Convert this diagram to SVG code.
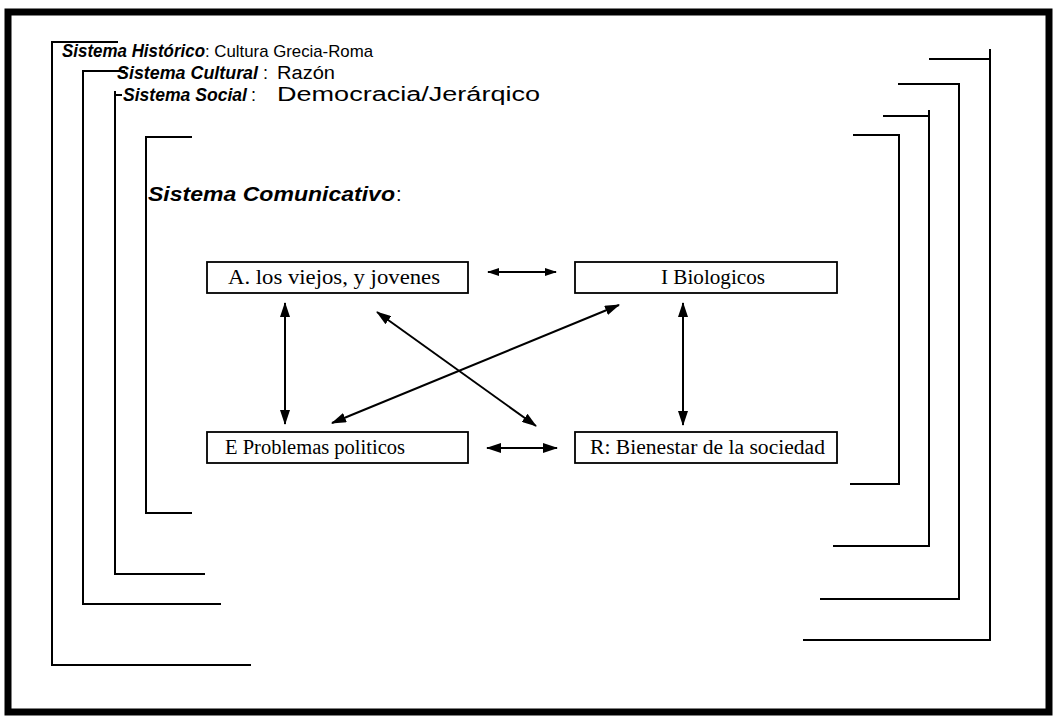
<svg xmlns="http://www.w3.org/2000/svg" width="1056" height="716" viewBox="0 0 1056 716">
<defs>
<style>
.frame{fill:none;stroke:#000;stroke-width:7}
.br{fill:none;stroke:#000;stroke-width:2}
.box{fill:#fff;stroke:#000;stroke-width:1.8}
.hb{font-family:"Liberation Sans",Arial,sans-serif;font-weight:bold;font-style:italic;font-size:17px;fill:#000}
.hr{font-family:"Liberation Sans",Arial,sans-serif;font-size:17px;fill:#000}
.lbl{font-family:"Liberation Serif","Times New Roman",serif;font-size:20px;fill:#000}
.con{fill:none;stroke:#000;stroke-width:2;marker-start:url(#ah);marker-end:url(#ah)}
.cons{fill:none;stroke:#000;stroke-width:1.8;marker-start:url(#ahs);marker-end:url(#ahs)}
</style>
<marker id="ah" viewBox="0 0 15 10" refX="14" refY="5" markerWidth="15" markerHeight="10" markerUnits="userSpaceOnUse" orient="auto-start-reverse">
<path d="M0,0 L15,5 L0,10 Z" fill="#000"/>
</marker>
<marker id="ahs" viewBox="0 0 12 8" refX="11" refY="4" markerWidth="12" markerHeight="8" markerUnits="userSpaceOnUse" orient="auto-start-reverse">
<path d="M0,0 L12,4 L0,8 Z" fill="#000"/>
</marker>
</defs>
<rect width="1056" height="716" fill="#fff"/>
<rect class="frame" x="8" y="12" width="1041" height="700"/>

<g id="sistema-historico">
<path class="br" d="M118,42 H52 V665 H251"/>
<path class="br" d="M929,59 H990 V49 M990,59 V640 H803"/>
<text class="hb" x="62" y="57" style="font-size:18px" textLength="143" lengthAdjust="spacingAndGlyphs">Sistema Histórico</text>
<text class="hr" x="205" y="57" textLength="168" lengthAdjust="spacingAndGlyphs">: Cultura Grecia-Roma</text>
</g>

<g id="sistema-cultural">
<path class="br" d="M125,71 H83 V604 H221"/>
<path class="br" d="M898,84 H959 V599 H820"/>
<text class="hb" x="117" y="79" style="font-size:18px" textLength="141" lengthAdjust="spacingAndGlyphs">Sistema Cultural</text>
<text class="hr" x="263" y="79" style="font-size:18px">:</text>
<text class="hr" x="277" y="79" style="font-size:18px" textLength="58" lengthAdjust="spacingAndGlyphs">Razón</text>
</g>

<g id="sistema-social">
<path class="br" d="M122,95 H115 M115,91 V574 H205"/>
<path class="br" d="M883,116 H929 M929,110 V546 H833"/>
<text class="hb" x="123" y="101" style="font-size:18px" textLength="124" lengthAdjust="spacingAndGlyphs">Sistema Social</text>
<text class="hr" x="251" y="101" style="font-size:18px">:</text>
<text class="hr" x="277" y="101" style="font-size:20px" textLength="263" lengthAdjust="spacingAndGlyphs">Democracia/Jerárqico</text>
</g>

<g id="sistema-comunicativo">
<path class="br" d="M192,137 H146 V513 H192"/>
<path class="br" d="M853,135 H899 V484 H850"/>
<text class="hb" x="148" y="201" style="font-size:20px" textLength="247" lengthAdjust="spacingAndGlyphs">Sistema Comunicativo</text>
<text class="hr" x="396" y="201" style="font-size:20px">:</text>
</g>

<g id="node-A">
<rect class="box" x="207" y="262" width="261" height="31"/>
<text class="lbl" x="228" y="284" textLength="212" lengthAdjust="spacingAndGlyphs">A. los viejos, y jovenes</text>
</g>
<g id="node-I">
<rect class="box" x="575" y="262" width="262" height="31"/>
<text class="lbl" x="661" y="284" textLength="104" lengthAdjust="spacingAndGlyphs">I  Biologicos</text>
</g>
<g id="node-E">
<rect class="box" x="207" y="432" width="261" height="31"/>
<text class="lbl" x="225" y="454" textLength="180" lengthAdjust="spacingAndGlyphs">E  Problemas politicos</text>
</g>
<g id="node-R">
<rect class="box" x="575" y="432" width="262" height="31"/>
<text class="lbl" x="590" y="454" textLength="235" lengthAdjust="spacingAndGlyphs">R: Bienestar de la sociedad</text>
</g>

<g id="connectors">
<line class="cons" x1="488" y1="272" x2="556" y2="272"/>
<line class="con" x1="487" y1="448" x2="557" y2="448"/>
<line class="con" x1="285" y1="303" x2="285" y2="424"/>
<line class="con" x1="683" y1="303" x2="683" y2="425"/>
<line class="con" x1="377" y1="312" x2="536" y2="426"/>
<line class="con" x1="619" y1="305" x2="332" y2="423"/>
</g>
</svg>
